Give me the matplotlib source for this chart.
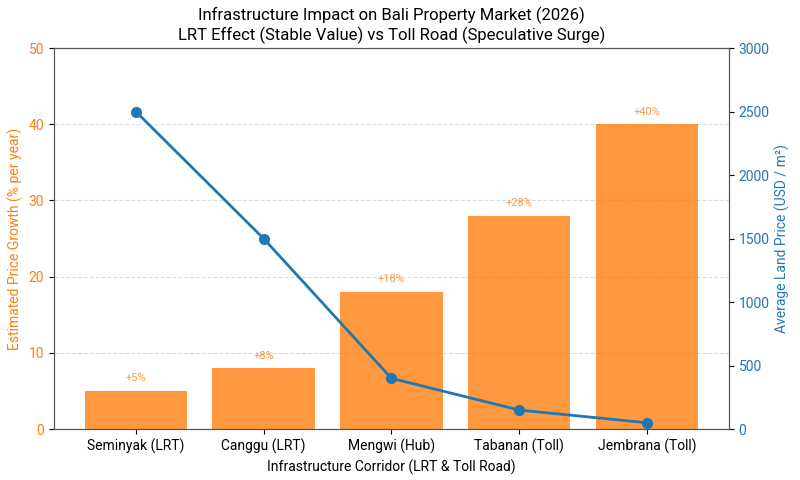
import matplotlib
matplotlib.use("Agg")
import matplotlib.pyplot as plt

plt.rcParams['font.family'] = ['Roboto', 'DejaVu Sans']

corridors = ["Seminyak (LRT)", "Canggu (LRT)", "Mengwi (Hub)", "Tabanan (Toll)", "Jembrana (Toll)"]
growth_pct = [5, 8, 18, 28, 40]
land_price = [2500, 1500, 400, 150, 50]

orange = '#ff7f0e'
blue = '#1f77b4'

fig, ax1 = plt.subplots(figsize=(8, 4.8), dpi=100)
fig.subplots_adjust(left=0.0675, right=0.911, top=0.9, bottom=0.106)

x = list(range(len(corridors)))
bars = ax1.bar(x, growth_pct, width=0.8, color=orange, alpha=0.8, zorder=2)
ax1.set_ylim(0, 50)
ax1.set_ylabel("Estimated Price Growth (% per year)", color=orange, fontsize=10)
ax1.tick_params(axis='y', labelcolor=orange, labelsize=10)
ax1.set_xticks(x)
ax1.set_xticklabels(corridors, fontsize=10)
ax1.set_xlabel("Infrastructure Corridor (LRT & Toll Road)", fontsize=10)
ax1.grid(axis='y', linestyle='--', color='#cccccc', alpha=0.7, zorder=0)
ax1.set_axisbelow(True)

for xi, v in zip(x, growth_pct):
    ax1.text(xi, v + 1, f"+{v}%", ha='center', va='bottom', color=orange, alpha=0.8, fontsize=8)

ax2 = ax1.twinx()
ax2.plot(x, land_price, color=blue, marker='o', linewidth=2, markersize=7)
ax2.set_ylim(0, 3000)
ax2.set_ylabel("Average Land Price (USD / m²)", color=blue, fontsize=10)
ax2.tick_params(axis='y', labelcolor=blue, labelsize=10)

for ax in (ax1, ax2):
    for s in ax.spines.values():
        s.set_color('#555555')

ax1.set_title("Infrastructure Impact on Bali Property Market (2026)\nLRT Effect (Stable Value) vs Toll Road (Speculative Surge)", fontsize=12)

fig.savefig("out.png", dpi=100)
